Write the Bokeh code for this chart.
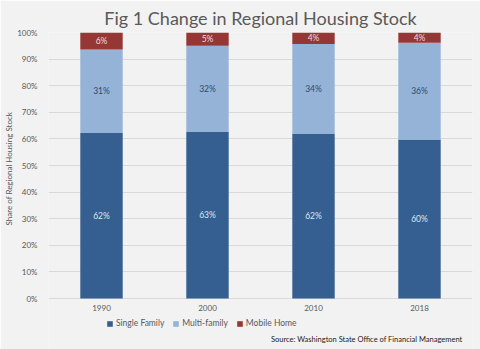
from bokeh.plotting import figure
from bokeh.models import (ColumnDataSource, FactorRange, Range1d, Legend, LegendItem, Label,
                          PrintfTickFormatter, FixedTicker, Title)
from bokeh.core.properties import value
from bokeh.embed import file_html
from bokeh.resources import INLINE

years = ["1990", "2000", "2010", "2018"]
single_family = [62.2, 62.6, 61.8, 59.8]
multi_family = [31.4, 32.4, 33.9, 36.3]
mobile_home = [6.4, 5.0, 4.3, 3.9]
series_names = ["Single Family", "Multi-family", "Mobile Home"]
colors = ["#355f91", "#95b3d7", "#953735"]
label_colors = ["#dce6f2", "#2c4a70", "#f2dcdb"]
y_ticks = list(range(0, 101, 10))

FONT = "Lato"
BG = "#f2f2f2"
GRAY = "#595959"

# frame runs from the top of the value axis down to the bottom of the picture;
# 100 units of value take 266 px, the 51 px below zero hold year labels, legend and source.
Y_MIN = -51 * 100 / 266

src = ColumnDataSource(dict(year=years, sf=single_family, mf=multi_family, mh=mobile_home))

p = figure(x_range=FactorRange(*years), y_range=Range1d(Y_MIN, 100),
           width=480, height=349, output_backend="svg", toolbar_location=None,
           min_border_left=48, min_border_right=8, min_border_top=32, min_border_bottom=0)
p.background_fill_color = BG
p.border_fill_color = BG
p.outline_line_color = None

r = p.vbar_stack(["sf", "mf", "mh"], x="year", width=0.4, source=src,
                 color=colors, line_color=None)

# segment labels
lx, ly, lt, lc = [], [], [], []
for i, y in enumerate(years):
    vals = [single_family[i], multi_family[i], mobile_home[i]]
    base = 0
    for j, v in enumerate(vals):
        lx.append(y)
        ly.append(base + v / 2)
        lt.append(f"{round(v)}%")
        lc.append(label_colors[j])
        base += v
lsrc = ColumnDataSource(dict(x=lx, y=ly, t=lt, c=lc))
p.text(x="x", y="y", text="t", source=lsrc, text_color="c", text_align="center",
       text_baseline="middle", text_font=value(FONT), text_font_size="8.5px")

# year labels under the zero line
ysrc = ColumnDataSource(dict(x=years, y=[0] * len(years), t=years))
p.text(x="x", y="y", text="t", source=ysrc, y_offset=6, text_color=GRAY, text_align="center",
       text_baseline="top", text_font=value(FONT), text_font_size="8px")

p.title.text = "Fig 1 Change in Regional Housing Stock"
p.title.align = "center"
p.title.text_font = FONT
p.title.text_font_size = "18px"
p.title.text_font_style = "normal"
p.title.text_color = GRAY
p.title.standoff = 8

p.yaxis.ticker = FixedTicker(ticks=y_ticks)
p.yaxis.formatter = PrintfTickFormatter(format="%d%%")
p.yaxis.axis_line_color = None
p.yaxis.major_tick_line_color = None
p.yaxis.minor_tick_line_color = None
p.yaxis.major_label_text_font = FONT
p.yaxis.major_label_text_font_size = "8px"
p.yaxis.major_label_text_color = GRAY

ytitle = Title(text="Share of Regional Housing Stock", align="left", offset=124,
               text_font=FONT, text_font_size="8px", text_font_style="normal",
               text_color=GRAY, standoff=2)
p.add_layout(ytitle, "left")

p.xaxis.visible = False
p.xgrid.grid_line_color = None
p.ygrid.grid_line_color = "#d9d9d9"
p.ygrid.ticker = FixedTicker(ticks=y_ticks)

items = [LegendItem(label=series_names[k], renderers=[r[k]]) for k in range(3)]
legend = Legend(items=items, orientation="horizontal", location=(58, 21),
                background_fill_alpha=0, border_line_color=None,
                label_text_font=FONT, label_text_font_size="8.5px", label_text_color=GRAY,
                label_height=8, glyph_width=7, glyph_height=7, label_standoff=3, spacing=8,
                padding=2, margin=0)
p.add_layout(legend, "center")

src_label = Label(x=414, y=6, x_units="screen", y_units="screen",
                  text="Source: Washington State Office of Financial Management",
                  text_align="right", text_font=FONT, text_font_size="7.5px", text_color="#222222")
p.add_layout(src_label)

open("out.html", "w").write(file_html(p, INLINE))
